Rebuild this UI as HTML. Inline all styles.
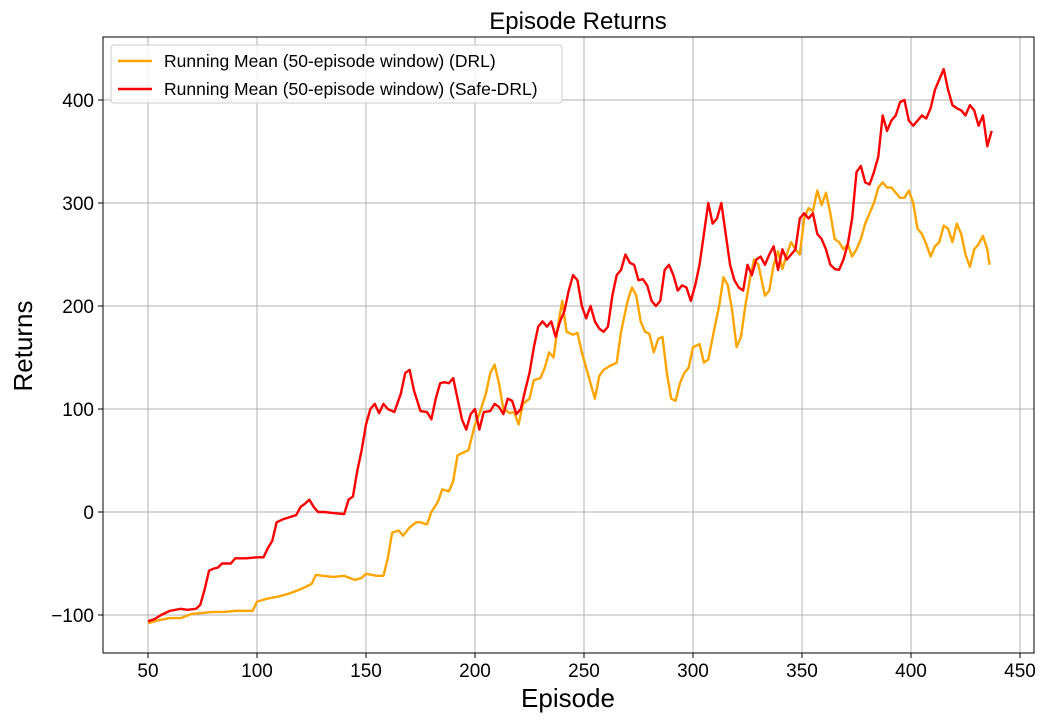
<!DOCTYPE html>
<html><head><meta charset="utf-8"><style>
body{margin:0;background:#fff;font-family:"Liberation Sans","DejaVu Sans",sans-serif}
</style></head><body>
<svg id="chart" width="1049" height="721" xmlns="http://www.w3.org/2000/svg" font-family="Liberation Sans, DejaVu Sans, sans-serif"></svg>
<script>
const drlEpisodes=[50,55,60,65,70,75,80,85,90,95,98,100,105,110,115,120,125,127,130,135,140,145,148,150,155,158,160,162,165,167,170,173,175,178,180,183,185,188,190,192,195,197,200,202,205,207,209,211,213,216,218,220,222,225,227,230,232,234,236,238,240,242,245,247,249,251,253,255,257,259,262,265,267,270,272,274,276,278,280,282,284,286,288,290,292,294,296,298,300,303,305,307,310,312,314,316,318,320,322,324,326,328,330,333,335,337,339,341,343,345,347,349,351,353,355,357,359,361,363,365,367,369,371,373,375,377,379,381,383,385,387,389,391,393,395,397,399,401,403,405,407,409,411,413,415,417,419,421,423,425,427,429,431,433,435,436];
const drlValues=[-108,-105,-103,-103,-99,-98,-97,-97,-96,-96,-96,-87,-84,-82,-79,-75,-70,-61,-62,-63,-62,-66,-64,-60,-62,-62,-45,-20,-18,-23,-15,-10,-10,-12,0,10,22,20,30,55,58,60,85,95,115,135,143,125,100,96,97,85,105,110,128,130,140,155,150,180,205,175,172,174,155,140,125,110,132,138,142,145,175,205,218,210,185,175,173,155,168,170,135,110,108,125,135,140,160,163,145,148,180,200,228,220,195,160,170,200,225,245,240,210,215,240,253,236,250,262,255,250,285,295,292,312,298,310,290,265,262,255,260,248,255,265,280,290,300,315,320,315,315,310,305,305,312,300,275,270,260,248,258,262,278,275,262,280,270,250,238,255,260,268,255,240];
const safeEpisodes=[50,53,56,60,65,68,72,74,76,78,80,82,84,86,88,90,95,100,103,105,107,109,112,115,118,120,122,124,126,128,131,135,140,142,144,146,148,150,152,154,156,158,160,163,166,168,170,172,175,178,180,182,184,186,188,190,192,194,196,198,200,202,204,207,209,211,213,215,217,219,221,223,225,227,229,231,233,235,237,239,241,243,245,247,249,251,253,255,257,259,261,263,265,267,269,271,273,275,277,279,281,283,285,287,289,291,293,295,297,299,301,303,305,307,309,311,313,315,317,319,321,323,325,327,329,331,333,335,337,339,341,343,345,347,349,351,353,355,357,359,361,363,365,367,369,371,373,375,377,379,381,383,385,387,389,391,393,395,397,399,401,403,405,407,409,411,413,415,417,419,421,423,425,427,429,431,433,435,437];
const safeValues=[-106,-104,-100,-96,-94,-95,-94,-90,-75,-57,-55,-54,-50,-50,-50,-45,-45,-44,-44,-35,-28,-10,-7,-5,-3,5,8,12,5,0,0,-1,-2,12,15,40,60,85,100,105,96,105,100,97,115,135,138,118,98,97,90,110,125,126,125,130,110,90,80,95,100,80,97,98,105,102,95,110,108,95,100,118,135,160,180,185,180,185,170,185,195,215,230,225,200,188,200,185,178,175,180,210,230,235,250,242,240,225,226,220,205,200,205,235,240,230,215,220,218,205,220,240,270,300,280,285,300,270,240,225,218,215,240,230,245,248,240,250,258,235,255,245,250,255,285,290,285,290,270,265,255,240,236,235,245,260,285,330,336,320,318,330,345,385,370,380,385,398,400,380,375,380,385,382,392,410,420,430,410,395,392,390,385,395,390,375,385,355,370];
const xTicks=[50,100,150,200,250,300,350,400,450];
const yTicks=[-100,0,100,200,300,400];

const NS="http://www.w3.org/2000/svg";
const svg=document.getElementById('chart');
const L=103,R=1034,T=37,B=653;
const X=e=>148+(e-50)*2.18;
const Y=v=>512-v*1.03;
function mk(tag,attrs,parent){const el=document.createElementNS(NS,tag);for(const k in attrs)el.setAttribute(k,attrs[k]);(parent||svg).appendChild(el);return el;}

xTicks.forEach(t=>{const l=mk('line',{x1:X(t),x2:X(t),y1:T,y2:B,stroke:'#b0b0b0','stroke-width':1});


const tk=mk('line',{x1:X(t),x2:X(t),y1:B,y2:B+5,stroke:'#000'});


const tx=mk('text',{x:X(t),y:B+24,'font-size':19,'text-anchor':'middle'});tx.textContent=t;


});
yTicks.forEach(t=>{const l=mk('line',{x1:L,x2:R,y1:Y(t),y2:Y(t),stroke:'#b0b0b0','stroke-width':1});


const tk=mk('line',{x1:L-5,x2:L,y1:Y(t),y2:Y(t),stroke:'#000'});


const tx=mk('text',{x:L-9,y:Y(t)+7,'font-size':19,'text-anchor':'end'});tx.textContent=(t<0?'\u2212'+(-t):t);


});
function line(eps,vals,color,name){const p=mk('polyline',{points:eps.map((e,i)=>X(e)+','+Y(vals[i])).join(' '),fill:'none',stroke:color,'stroke-width':2.4,'stroke-linejoin':'round'});

}
line(drlEpisodes,drlValues,'#ffa500','drl-running-mean-line');
line(safeEpisodes,safeValues,'#ff0000','safe-drl-running-mean-line');
const fr=mk('rect',{x:L,y:T,width:R-L,height:B-T,fill:'none',stroke:'#000','stroke-width':1});


</script>
<svg style="position:absolute;left:0;top:0" width="1049" height="721" xmlns="http://www.w3.org/2000/svg" font-family="Liberation Sans, DejaVu Sans, sans-serif">
<text x="578" y="29" font-size="24" text-anchor="middle">Episode Returns</text>
<text x="568" y="707" font-size="26" text-anchor="middle">Episode</text>
<text x="32" y="346" font-size="26" text-anchor="middle" transform="rotate(-90 32 346)">Returns</text>
<g>
<rect x="111" y="45" width="451" height="58" rx="3" fill="#fff" fill-opacity="0.8" stroke="#ccc"/>
<g>
<line x1="118" x2="152" y1="61" y2="61" stroke="#ffa500" stroke-width="2.4"/>
<text x="164" y="67" font-size="17.5">Running Mean (50-episode window) (DRL)</text></g>
<g>
<line x1="118" x2="152" y1="89" y2="89" stroke="#ff0000" stroke-width="2.4"/>
<text x="164" y="95" font-size="17.5">Running Mean (50-episode window) (Safe-DRL)</text></g>
</g>
</svg>
</body></html>
